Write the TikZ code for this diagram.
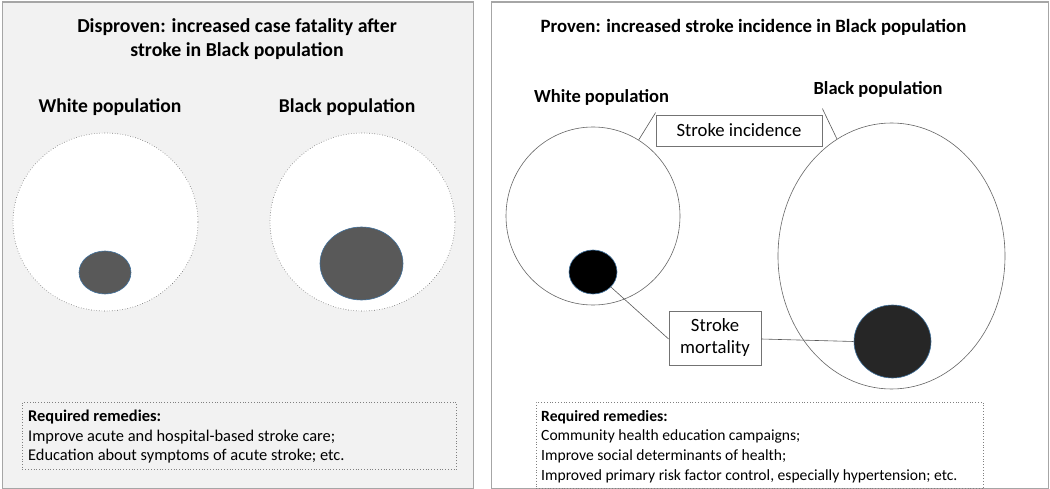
\documentclass[tikz,border=0pt]{standalone}
\usepackage{fontspec}
\setmainfont{Carlito}
\usetikzlibrary{shapes.geometric}
\definecolor{panelgray}{HTML}{F2F2F2}
\definecolor{framegray}{HTML}{A6A6A6}
\definecolor{darkfill}{HTML}{595959}
\definecolor{edgeblue}{HTML}{41719C}
\begin{document}
\begin{tikzpicture}[x=1pt,y=-1pt,
  panel/.style={draw=framegray,line width=1.5pt},
  ttl/.style={font=\fontsize{19.8}{23.5}\selectfont\bfseries,align=center},
  pop/.style={font=\fontsize{19.6}{20}\selectfont\bfseries},
  rpop/.style={font=\fontsize{18.5}{20}\selectfont\bfseries},
  popcirc/.style={ellipse,inner sep=0pt,draw=gray!80!black,line width=0.6pt},
  deadcirc/.style={ellipse,inner sep=0pt,draw=edgeblue,line width=0.6pt},
  remedy/.style={draw=gray,dotted,line width=0.8pt,anchor=north west,inner sep=0pt},
  remtext/.style={align=left,anchor=north west,inner sep=0pt},
  label/.style={draw=gray!90!black,line width=0.8pt,fill=white,font=\fontsize{18.7}{22}\selectfont,align=center,inner sep=0pt},
  conn/.style={draw=gray!70!black,line width=0.6pt}]
\useasboundingbox (0,0) rectangle (1050,489);
\fill[white] (0,0) rectangle (1050,489);
% left panel
\node[panel,fill=panelgray,anchor=north west,minimum width=471,minimum height=486,inner sep=0pt] (lpanel) at (1.5,1.5) {};
\node[ttl] (ltitle) at (237,39) {Disproven: increased case fatality after\\stroke in Black population};
\node[pop] (lwlab) at (110,107) {White population};
\node[pop] (lblab) at (347,107) {Black population};
\node[popcirc,dotted,fill=white,minimum width=185,minimum height=178] (lwc) at (105.5,222) {};
\node[deadcirc,fill=darkfill,minimum width=52,minimum height=43] (lwd) at (105,272.5) {};
\node[popcirc,dotted,fill=white,minimum width=185,minimum height=178] (lbc) at (362.5,222) {};
\node[deadcirc,fill=darkfill,minimum width=83,minimum height=73] (lbd) at (361.5,263.5) {};
\node[remedy,minimum width=434,minimum height=67] (lrem) at (22,402) {};
\node[remtext,font=\fontsize{16.4}{19.6}\selectfont] (lremt) at (28,410) {\textbf{Required remedies:}\\Improve acute and hospital-based stroke care;\\Education about symptoms of acute stroke; etc.};
% right panel
\node[panel,fill=white,anchor=north west,minimum width=557,minimum height=486,inner sep=0pt] (rpanel) at (490.5,1.5) {};
\node[ttl,font=\fontsize{18.8}{23}\selectfont\bfseries] (rtitle) at (753.5,27) {Proven: increased stroke incidence in Black population};
\node[rpop] (rwlab) at (601.5,97) {White population};
\node[rpop] (rblab) at (878,89) {Black population};
\node[popcirc,minimum width=174,minimum height=178] (rwc) at (593,216) {};
\node[popcirc,minimum width=227,minimum height=266] (rbc) at (891.5,256) {};
\node[deadcirc,fill=black,minimum width=48,minimum height=44] (rwd) at (593,272) {};
\node[deadcirc,fill=black!85,minimum width=77,minimum height=73] (rbd) at (892.5,341.5) {};
\node[label,minimum width=166,minimum height=31] (sinc) at (739,130.5) {Stroke incidence};
\node[label,minimum width=92,minimum height=54] (smort) at (715,338) {Stroke\\mortality};
\draw[conn] ([yshift=2]sinc.north west) -- (rwc.59);
\draw[conn] ([yshift=6]sinc.north east) -- (rbc.115);
\draw[conn] (rwd.-40) -- ([yshift=-1]smort.west);
\draw[conn] ([yshift=-1]smort.east) -- (rbd.west);
\node[remedy,minimum width=447,minimum height=86] (rrem) at (536,402) {};
\node[remtext,font=\fontsize{15.6}{19.8}\selectfont] (rremt) at (541,410) {\textbf{Required remedies:}\\Community health education campaigns;\\Improve social determinants of health;\\Improved primary risk factor control, especially hypertension; etc.};
\end{tikzpicture}
\end{document}
